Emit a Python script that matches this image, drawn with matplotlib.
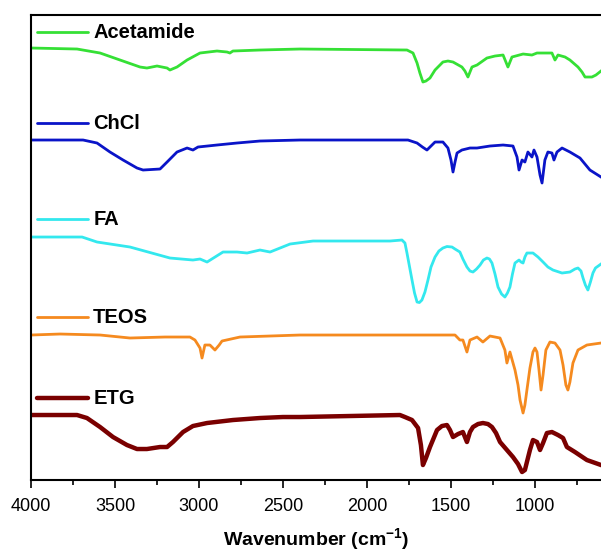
import matplotlib
matplotlib.use("Agg")
import matplotlib.pyplot as plt

plt.rcParams['font.family'] = ['Liberation Sans', 'DejaVu Sans']
plt.rcParams['mathtext.fontset'] = 'custom'
plt.rcParams['mathtext.rm'] = 'Liberation Sans:bold'
plt.rcParams['mathtext.bf'] = 'Liberation Sans:bold'
plt.rcParams['mathtext.default'] = 'bf'

# stacked FTIR spectra (wavenumber, offset transmittance, arbitrary units)
acet_wn = [4000, 3726, 3589, 3470, 3351, 3310, 3250, 3190, 3173, 3131, 3071, 2994,
           2893, 2833, 2816, 2798, 2637, 2399,
           1762, 1726, 1702, 1685, 1667, 1649, 1625, 1595, 1548, 1518, 1488, 1435,
           1417, 1399, 1375, 1345, 1286, 1238, 1190, 1161, 1137, 1071, 1018, 988,
           941, 899, 881, 863, 821, 792, 744, 720, 702, 661, 637, 607]
acet_t = [86.4, 86.2, 85.4, 84.0, 82.6, 82.4, 82.8, 82.4, 82.0, 82.6, 84.0, 85.4,
          85.8, 85.6, 85.4, 85.8, 86.0, 86.2,
          86.0, 85.4, 83.4, 81.4, 79.6, 79.8, 80.4, 82.0, 83.6, 83.8, 83.6, 82.6,
          81.8, 80.6, 82.6, 83.0, 84.4, 84.8, 85.0, 82.6, 84.6, 85.2, 85.0, 85.4,
          85.4, 85.4, 84.0, 85.0, 84.6, 84.0, 82.6, 81.6, 80.6, 80.6, 81.0, 81.8]

chcl_wn = [4000, 3690, 3607, 3530, 3452, 3369, 3333, 3232, 3190, 3131, 3071, 3036,
           3006, 2893, 2774, 2637, 2399,
           1756, 1702, 1670, 1643, 1619, 1595, 1548, 1518, 1500, 1488, 1476, 1464,
           1435, 1387, 1345, 1268, 1190, 1131, 1107, 1095, 1077, 1060, 1042, 1018,
           1006, 988, 970, 958, 941, 923, 899, 887, 869, 839, 792, 732, 673, 607]
chcl_t = [68.0, 68.0, 67.4, 65.6, 64.0, 62.4, 62.0, 62.2, 63.6, 65.6, 66.4, 66.0,
          66.6, 67.0, 67.4, 67.8, 68.0,
          68.0, 67.4, 66.6, 66.0, 66.8, 67.6, 67.6, 66.4, 64.0, 61.6, 63.6, 65.4,
          66.0, 66.4, 66.4, 66.8, 67.0, 66.8, 64.6, 62.0, 64.0, 63.6, 65.6, 64.6,
          66.0, 64.6, 61.0, 59.4, 64.0, 65.6, 65.4, 64.0, 65.6, 66.4, 65.6, 64.4,
          62.0, 60.6]

fa_wn = [4000, 3696, 3607, 3411, 3173, 3036, 2994, 2952, 2857, 2774, 2714, 2637,
         2577, 2458, 2321, 2119,
         1863, 1792, 1774, 1762, 1732, 1717, 1702, 1688, 1673, 1655, 1637, 1619,
         1595, 1572, 1548, 1524, 1494, 1476, 1447, 1429, 1405, 1387, 1369, 1348,
         1327, 1307, 1286, 1271, 1256, 1238, 1220, 1199, 1179, 1164, 1149, 1134,
         1119, 1095, 1083, 1071, 1060, 1048, 1012, 982, 952, 923, 893, 839, 792,
         762, 744, 726, 714, 700, 685, 670, 655, 640, 607]
fa_t = [48.6, 48.6, 47.6, 46.6, 44.4, 44.0, 44.2, 43.6, 45.6, 45.6, 45.4, 46.0,
        45.6, 47.2, 47.8, 47.8,
        47.8, 48.0, 47.4, 45.4, 40.0, 37.4, 35.6, 35.5, 36.0, 37.6, 40.0, 42.6,
        44.6, 45.8, 46.4, 46.7, 46.6, 46.2, 45.6, 44.2, 42.6, 41.8, 41.6, 42.2,
        43.0, 44.0, 44.4, 44.2, 43.4, 41.2, 38.6, 37.2, 36.6, 37.4, 38.6, 41.2,
        43.4, 44.0, 43.6, 43.4, 44.6, 45.4, 45.4, 44.6, 43.6, 42.6, 42.0, 41.4, 41.6,
        42.2, 42.4, 41.8, 40.4, 39.0, 38.0, 39.6, 41.4, 42.4, 43.2]

teos_wn = [4000, 3827, 3589, 3411, 3202, 3054, 3024, 2994, 2982, 2965, 2935, 2905,
           2880, 2863, 2756, 2399,
           1476, 1447, 1429, 1405, 1387, 1345, 1310, 1268, 1208, 1179, 1167, 1149,
           1119, 1101, 1089, 1071, 1060, 1048, 1030, 1012, 1000, 988, 976, 964, 952,
           935, 911, 881, 851, 833, 816, 804, 792, 774, 744, 691, 607]
teos_t = [29.0, 29.2, 29.0, 28.4, 28.6, 28.6, 28.0, 26.4, 24.4, 27.0, 27.0, 26.0,
          27.0, 27.8, 28.6, 29.0,
          29.0, 28.0, 28.0, 25.6, 28.0, 28.6, 27.6, 28.8, 28.4, 26.0, 23.4, 25.6,
          22.0, 19.0, 16.0, 13.4, 15.0, 18.0, 22.4, 25.6, 26.4, 25.6, 22.0, 18.0, 21.0,
          26.0, 27.6, 27.4, 26.0, 23.0, 19.0, 18.0, 19.6, 23.4, 26.0, 27.0, 27.4]

etg_wn = [4000, 3726, 3667, 3589, 3512, 3429, 3369, 3310, 3232, 3190, 3155, 3095,
          3036, 2952, 2798, 2637, 2500, 2399,
          1804, 1774, 1732, 1696, 1679, 1667, 1649, 1625, 1583, 1554, 1524, 1506,
          1488, 1458, 1429, 1405, 1387, 1369, 1339, 1310, 1280, 1256, 1232, 1208,
          1167, 1131, 1101, 1077, 1060, 1042, 1030, 1012, 988, 970, 952, 929, 899,
          863, 833, 810, 762, 691, 607]
etg_t = [13.0, 13.0, 12.4, 10.6, 8.6, 7.0, 6.2, 6.2, 6.6, 6.6, 7.6, 9.6,
         10.8, 11.4, 12.0, 12.4, 12.6, 12.6,
         13.0, 12.6, 12.0, 10.4, 7.0, 3.0, 4.4, 6.6, 10.0, 10.8, 11.0, 10.0,
         8.6, 9.2, 9.6, 7.6, 9.6, 10.6, 11.2, 11.4, 11.2, 10.6, 9.4, 7.6,
         6.0, 4.6, 3.2, 1.6, 2.0, 4.4, 6.0, 8.0, 7.6, 6.0, 7.4, 9.4, 9.6,
         9.0, 8.4, 6.6, 5.6, 4.0, 3.0]

names = ['Acetamide', 'ChCl', 'FA', 'TEOS', 'ETG']
label_y = [89.6, 71.4, 52.2, 32.6, 16.4]

fig = plt.figure(figsize=(6.01, 5.52), dpi=100)
ax = fig.add_axes([0.0516, 0.1304, 0.9484, 0.8424])

series = [(acet_wn, acet_t, '#35e035', 2.0),
          (chcl_wn, chcl_t, '#0a14c8', 2.0),
          (fa_wn, fa_t, '#33e8ee', 2.0),
          (teos_wn, teos_t, '#f58a1f', 2.0),
          (etg_wn, etg_t, '#7a0000', 3.2)]

for (wn, t, c, lw), name, ly in zip(series, names, label_y):
    ax.plot(wn, t, color=c, lw=lw, solid_joinstyle='round')
    ax.plot([3964, 3660], [ly, ly], color=c, lw=lw, solid_capstyle='round')
    ax.text(3630, ly, name, fontsize=14.5, fontweight='bold', va='center', ha='left')

ax.set_xlim(4000, 607)
ax.set_ylim(0, 93)
ax.set_xticks([4000, 3500, 3000, 2500, 2000, 1500, 1000])
ax.set_xticks(list(range(3750, 600, -500)), minor=True)
ax.set_yticks([])
ax.tick_params(axis='x', which='major', direction='out', length=6, width=1.2,
               labelsize=13, pad=7)
ax.tick_params(axis='x', which='minor', direction='out', length=3.5, width=1.2)
for s in ['left', 'bottom', 'top']:
    ax.spines[s].set_linewidth(1.5)
ax.spines['right'].set_visible(False)
ax.set_xlabel('Wavenumber (cm$^{-1}$)', fontsize=14, fontweight='bold', labelpad=8)

fig.savefig('out.png', dpi=100)
